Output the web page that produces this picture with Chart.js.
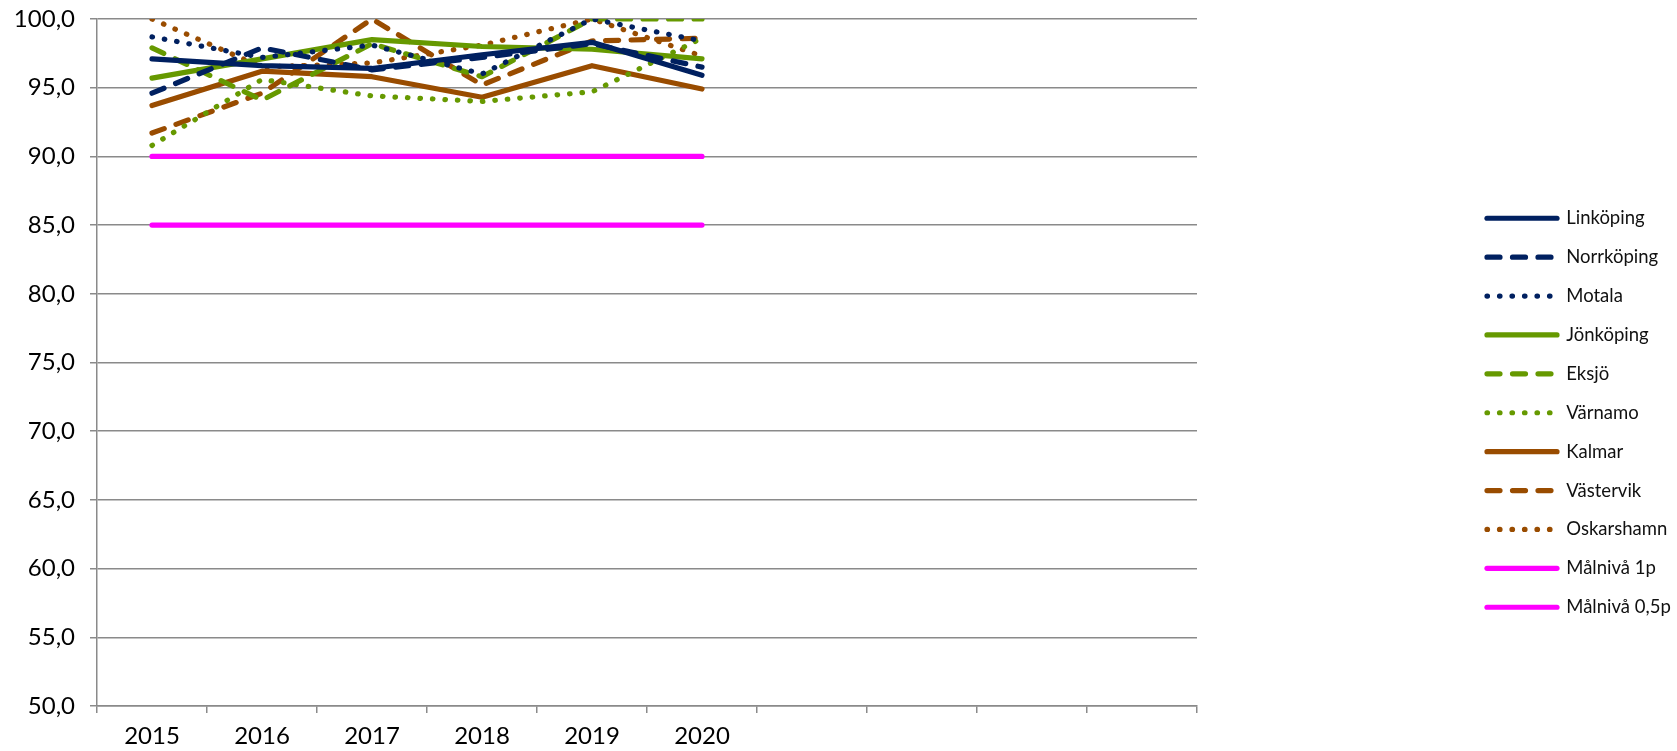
<!DOCTYPE html>
<html>
<head>
<meta charset="utf-8">
<script src="https://cdn.jsdelivr.net/npm/chart.js@4/dist/chart.umd.min.js"></script>
<style>
  body { margin: 0; background: #fff; }
  #wrap { width: 1677px; height: 751px; }
</style>
</head>
<body>
<div id="wrap"><canvas id="chart" width="1677" height="751"></canvas></div>
<script>
// kategorier (tomma platser för kommande år)
const years = ['2015', '2016', '2017', '2018', '2019', '2020', '', '', '', ''];

const linkoping  = [97.1, 96.6, 96.4, 97.4, 98.3, 95.9];
const norrkoping = [94.6, 97.9, 96.3, 97.2, 98.2, 96.5];
const motala     = [98.7, 97.2, 98.1, 96.0, 100.0, 98.4];
const jonkoping  = [95.7, 97.1, 98.5, 98.0, 97.8, 97.1];
const eksjo      = [97.9, 94.1, 98.2, 95.8, 100.0, 100.0];
const varnamo    = [90.8, 95.6, 94.4, 94.0, 94.7, 98.6];
const kalmar     = [93.7, 96.2, 95.8, 94.3, 96.6, 94.9];
const vastervik  = [91.7, 94.6, 100.0, 95.2, 98.4, 98.6];
const oskarshamn = [100.0, 96.5, 96.8, 98.1, 100.0, 97.3];
const malniva1   = [90, 90, 90, 90, 90, 90];
const malniva05  = [85, 85, 85, 85, 85, 85];

const yTicks = { min: 50, max: 100, step: 5 };

const NAVY = '#002060';
const GREEN = '#669900';
const BROWN = '#994c00';
const PINK = '#ff00ff';
const GRID = '#8a8a8a';

const SOLID = [];
const DASH = [13, 12.5];
const DOT = [0.5, 12];

function serie(label, data, color, dash) {
    return {
        label: label,
        data: data,
        borderColor: color,
        backgroundColor: color,
        borderWidth: 5.2,
        borderDash: dash,
        borderCapStyle: 'round',
        borderJoinStyle: 'round',
        pointRadius: 0,
        pointHoverRadius: 0,
        tension: 0,
        fill: false
    };
}

const datasets = [
    serie('Linköping', linkoping, NAVY, SOLID),
    serie('Norrköping', norrkoping, NAVY, DASH),
    serie('Motala', motala, NAVY, DOT),
    serie('Jönköping', jonkoping, GREEN, SOLID),
    serie('Eksjö', eksjo, GREEN, DASH),
    serie('Värnamo', varnamo, GREEN, DOT),
    serie('Kalmar', kalmar, BROWN, SOLID),
    serie('Västervik', vastervik, BROWN, DASH),
    serie('Oskarshamn', oskarshamn, BROWN, DOT),
    serie('Målnivå 1p', malniva1, PINK, SOLID),
    serie('Målnivå 0,5p', malniva05, PINK, SOLID)
];

// legenden ligger långt till höger om diagramytan
const legendPlace = {
    id: 'legendPlace',
    beforeUpdate(chart) {
        const lg = chart.legend;
        if (lg && !lg._patched) {
            const fit = lg.fit;
            lg.fit = function () {
                fit.call(this);
                this.width = 480;
            };
            lg._patched = true;
        }
    },
    afterLayout(chart) {
        const lg = chart.legend;
        const pad = lg.options.labels.padding;
        lg.left = 1487 - pad;
        lg.right = 1677;
        lg.top = 209 - pad;
    }
};

new Chart(document.getElementById('chart'), {
    type: 'line',
    data: { labels: years, datasets: datasets },
    plugins: [legendPlace],
    options: {
        responsive: false,
        animation: false,
        layout: { padding: { top: 19, bottom: 0, left: 0, right: 0 } },
        plugins: {
            tooltip: { enabled: false },
            legend: {
                position: 'right',
                align: 'start',
                labels: {
                    usePointStyle: true,
                    pointStyle: 'line',
                    pointStyleWidth: 70,
                    boxHeight: 18,
                    padding: 20.4,
                    color: '#111',
                    font: { family: 'Lato', size: 18.5 },
                    generateLabels(chart) {
                        const items = Chart.defaults.plugins.legend.labels.generateLabels(chart);
                        items.forEach(it => {
                            const ds = chart.data.datasets[it.datasetIndex];
                            it.lineDash = ds.borderDash;
                            it.lineCap = 'round';
                            it.lineWidth = ds.borderWidth;
                            it.strokeStyle = ds.borderColor;
                        });
                        return items;
                    }
                }
            }
        },
        scales: {
            x: {
                offset: true,
                grid: {
                    offset: true,
                    drawOnChartArea: false,
                    drawTicks: true,
                    tickLength: 7,
                    color: GRID,
                    lineWidth: 1.5
                },
                border: { color: GRID, width: 1.5 },
                ticks: {
                    color: '#000',
                    font: { family: 'Lato', size: 24 },
                    padding: 9,
                    maxRotation: 0,
                    autoSkip: false
                },
                afterFit(scale) { scale.height = 45; }
            },
            y: {
                min: yTicks.min,
                max: yTicks.max,
                grid: {
                    color: GRID,
                    lineWidth: 1.5,
                    drawTicks: true,
                    tickLength: 7
                },
                border: { color: GRID, width: 1.5 },
                ticks: {
                    stepSize: yTicks.step,
                    color: '#000',
                    font: { family: 'Lato', size: 24 },
                    padding: 15,
                    callback: v => v.toFixed(1).replace('.', ',')
                },
                afterFit(scale) {
                    scale.width = 97;
                    scale.paddingTop = 0;
                    scale.paddingBottom = 0;
                }
            }
        }
    }
});
</script>
</body>
</html>
